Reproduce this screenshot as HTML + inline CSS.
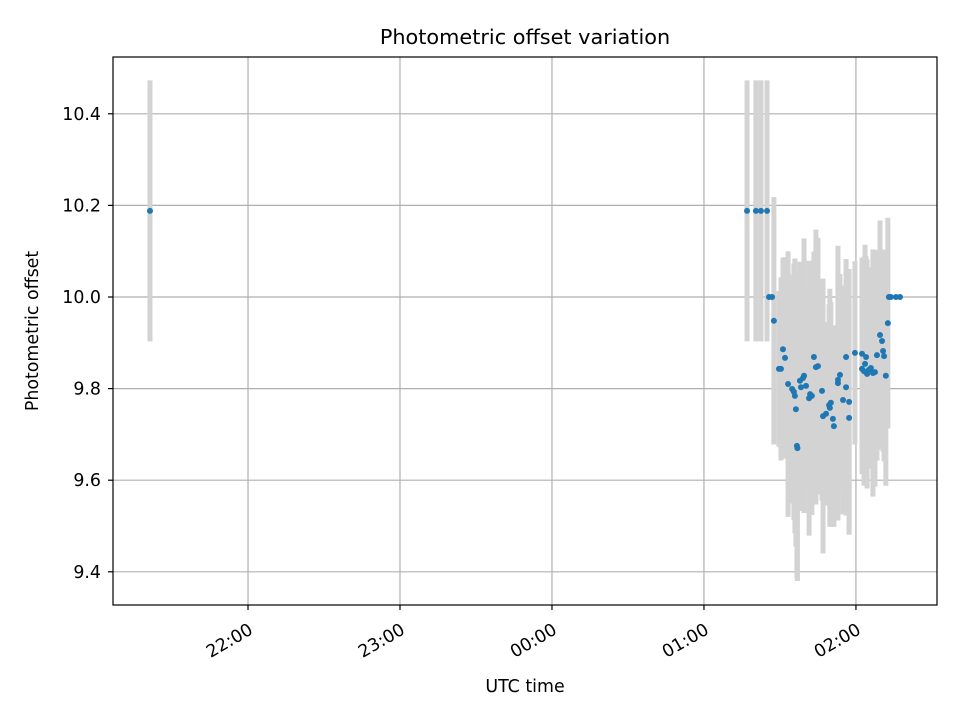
<!DOCTYPE html>
<html><head><meta charset="utf-8"><style>
body{margin:0;background:#fff}
svg text{font-family:"DejaVu Sans","Liberation Sans",sans-serif;fill:#000}
</style></head><body>
<svg id="chart" width="960" height="720" xmlns="http://www.w3.org/2000/svg">
<rect width="960" height="720" fill="#fff"/>
<text x="525" y="44" font-size="20.8" text-anchor="middle">Photometric offset variation</text>
<g id="grid"></g><g id="bars"></g><g id="pts"></g><g id="axes"></g>
<text x="525" y="692" font-size="17.4" text-anchor="middle">UTC time</text>
<text transform="translate(38,331) rotate(-90)" font-size="17.4" text-anchor="middle">Photometric offset</text>
</svg>
<script>
// minutes after 00:00 UTC (negative = previous day)
const times=[-158.7,77.0,80.5,82.5,84.9,85.7,86.9,87.6,89.6,90.4,91.2,92.0,93.2,94.8,95.5,95.9,96.3,96.7,96.9,97.9,98.3,99.1,99.5,100.3,101.5,101.9,102.6,103.4,104.2,105.0,106.6,107.0,108.2,109.4,109.7,110.1,110.9,111.3,112.9,112.9,113.7,114.9,116.1,116.1,117.3,117.3,119.6,122.4,122.4,123.2,123.6,124.0,124.4,125.1,125.9,126.7,127.5,128.3,129.5,130.3,130.7,131.1,131.8,132.6,133.0,133.8,135.8,137.4];
const offsets=[10.188,10.188,10.188,10.188,10.188,10.0,10.0,9.948,9.843,9.843,9.886,9.867,9.81,9.799,9.793,9.784,9.755,9.675,9.67,9.817,9.803,9.823,9.828,9.806,9.779,9.788,9.784,9.869,9.847,9.849,9.795,9.74,9.745,9.764,9.758,9.769,9.734,9.718,9.812,9.819,9.83,9.775,9.869,9.803,9.771,9.736,9.878,9.876,9.843,9.838,9.854,9.869,9.832,9.841,9.845,9.834,9.836,9.873,9.917,9.904,9.882,9.871,9.828,9.943,10.0,10.0,10.0,10.0];
const errors=[0.285,0.285,0.285,0.285,0.285,0,0,0.27,0.17,0.2,0.2,0.22,0.29,0.25,0.28,0.3,0.3,0.29,0.29,0.26,0.27,0.24,0.3,0.22,0.3,0.23,0.26,0.23,0.3,0.28,0.24,0.3,0.2,0.22,0.26,0.22,0.2,0.22,0.3,0.25,0.22,0.25,0.2,0.28,0.29,0.25,0.2,0.21,0.23,0.25,0.26,0.22,0.25,0.2,0.22,0.27,0.25,0.23,0.25,0.2,0.22,0.23,0.24,0.23,0,0,0,0];
const yTicks=[9.4,9.6,9.8,10.0,10.2,10.4];
const xTickMins=[-120,-60,0,60,120];
const xTickLabels=["22:00","23:00","00:00","01:00","02:00"];
const L=113,R=937,T=57,B=605;
const xMin=-173.3,xMax=152.0,yMin=9.3275,yMax=10.524;
const X=m=>L+(m-xMin)/(xMax-xMin)*(R-L);
const Y=v=>B-(v-yMin)/(yMax-yMin)*(B-T);
const NS="http://www.w3.org/2000/svg";
function mk(tag,attrs,parent){const e=document.createElementNS(NS,tag);for(const k in attrs)e.setAttribute(k,attrs[k]);parent.appendChild(e);return e;}
const grid=document.getElementById('grid'),axes=document.getElementById('axes'),bars=document.getElementById('bars'),pts=document.getElementById('pts');
yTicks.forEach(v=>{
 const g=mk('line',{x1:L,x2:R,y1:Y(v),y2:Y(v),stroke:'#b0b0b0','stroke-width':1.2},grid);
 
 mk('line',{x1:L-5,x2:L,y1:Y(v),y2:Y(v),stroke:'#000','stroke-width':1.2},axes);
 const t=mk('text',{x:L-12,y:Y(v)+6,'font-size':17.4,'text-anchor':'end'},axes);t.textContent=v.toFixed(1);
 
});
xTickMins.forEach((m,i)=>{
 const g=mk('line',{x1:X(m),x2:X(m),y1:T,y2:B,stroke:'#b0b0b0','stroke-width':1.2},grid);
 
 mk('line',{x1:X(m),x2:X(m),y1:B,y2:B+5,stroke:'#000','stroke-width':1.2},axes);
 const t=mk('text',{x:0,y:0,'font-size':17.4,'text-anchor':'end',transform:`translate(${X(m)+6},${B+28}) rotate(-30)`},axes);t.textContent=xTickLabels[i];
 
});
const fr=mk('rect',{x:L,y:T,width:R-L,height:B-T,fill:'none',stroke:'#000','stroke-width':1.2},axes);

times.forEach((m,i)=>{
 if(errors[i]<=0)return;
 const b=mk('line',{x1:X(m),x2:X(m),y1:Y(offsets[i]+errors[i]),y2:Y(offsets[i]-errors[i]),stroke:'#d3d3d3','stroke-width':5},bars);
 
});
times.forEach((m,i)=>{
 const c=mk('circle',{cx:X(m),cy:Y(offsets[i]),r:3,fill:'#1f77b4'},pts);
 
});
</script>
</body></html>
